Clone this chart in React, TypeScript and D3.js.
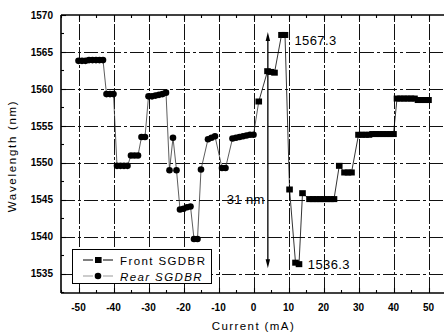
import React, { useEffect, useRef } from "react";
import * as d3 from "d3";

// rear mirror sweep (circles)
const rearCurrent = [
  -50, -49, -48, -47, -46, -45, -44, -43, -42, -41, -40, -39, -38, -37, -36,
  -35, -34, -33, -32, -31, -30, -29, -28, -27, -26, -25, -24, -23, -22, -21,
  -20, -19, -18, -17, -16, -15, -13, -12, -11, -9, -8, -6, -5, -4, -3, -2, -1, 0,
];
const rearWavelength = [
  1563.8, 1563.8, 1563.8, 1563.9, 1563.9, 1563.9, 1563.9, 1563.9, 1559.3,
  1559.3, 1559.3, 1549.6, 1549.6, 1549.6, 1549.6, 1551.0, 1551.0, 1551.0,
  1553.5, 1553.5, 1559.0, 1559.0, 1559.1, 1559.2, 1559.3, 1559.5, 1549.0,
  1553.4, 1549.0, 1543.7, 1543.8, 1544.0, 1544.1, 1539.7, 1539.7, 1549.1,
  1553.2, 1553.4, 1553.6, 1549.3, 1549.3, 1553.3, 1553.4, 1553.5, 1553.6,
  1553.7, 1553.8, 1553.8,
];

// front mirror sweep (squares)
const frontCurrent = [
  1.5, 4, 5, 6, 8, 9, 10.3, 12, 13, 14, 16, 17, 18, 19, 20, 21, 22, 23, 24.5,
  26, 27, 28, 30, 31, 32, 33, 34, 35, 36, 37, 38, 39, 40, 41, 42, 43, 44, 45,
  46, 47, 48, 49, 50,
];
const frontWavelength = [
  1558.3, 1562.4, 1562.3, 1562.2, 1567.3, 1567.3, 1546.4, 1536.5, 1536.3,
  1545.9, 1545.1, 1545.1, 1545.1, 1545.1, 1545.1, 1545.1, 1545.1, 1545.1,
  1549.6, 1548.7, 1548.7, 1548.7, 1553.8, 1553.8, 1553.8, 1553.8, 1553.9,
  1553.9, 1553.9, 1553.9, 1553.9, 1553.9, 1553.9, 1558.7, 1558.7, 1558.7,
  1558.7, 1558.7, 1558.7, 1558.5, 1558.5, 1558.5, 1558.5,
];

const xTicks = [-50, -40, -30, -20, -10, 0, 10, 20, 30, 40, 50];
const xMinorTicks = [-55, -45, -35, -25, -15, -5, 5, 15, 25, 35, 45];
const yTicks = [1535, 1540, 1545, 1550, 1555, 1560, 1565, 1570];
const yMinorTicks = [1532.5, 1537.5, 1542.5, 1547.5, 1552.5, 1557.5, 1562.5, 1567.5];
const legendLabels = ["Front SGDBR", "Rear SGDBR"];
const spanTop = 1567.3;
const spanBottom = 1536.3;
const spanCurrent = 4.1;

const FONT = "'Liberation Sans', Arial, sans-serif";

const App = () => {
  const ref = useRef<SVGSVGElement>(null);

  useEffect(() => {
    const width = 444;
    const height = 336;
    const margin = { top: 15, right: -2, bottom: 43, left: 61 };

    const svg = d3.select(ref.current);
    svg.selectAll("*").remove();
    svg.attr("width", width).attr("height", height);

    const x = d3
      .scaleLinear()
      .domain([-55, 55])
      .range([margin.left, margin.left + 385]);
    const y = d3
      .scaleLinear()
      .domain([1532.4, 1570])
      .range([height - margin.bottom, margin.top]);

    const px = (v: number) => Math.round(v) + 0.5;
    const x0 = x(-55);
    const x1 = width + 4;
    const y0 = y(1532.4);
    const y1 = y(1570);

    // grid
    const grid = svg
      .append("g")
      .attr("stroke", "#111")
      .attr("stroke-width", 1)
      .attr("shape-rendering", "crispEdges");
    grid
      .selectAll(".vgrid")
      .data(xTicks)
      .enter()
      .append("line")
      .attr("x1", (d) => px(x(d)))
      .attr("x2", (d) => px(x(d)))
      .attr("y1", y0)
      .attr("y2", y1)
      .attr("stroke-dasharray", "16 2 3 2");
    grid
      .selectAll(".hgrid")
      .data(yTicks.filter((d) => d < 1570))
      .enter()
      .append("line")
      .attr("x1", x0)
      .attr("x2", x1)
      .attr("y1", (d) => px(y(d)))
      .attr("y2", (d) => px(y(d)))
      .attr("stroke-dasharray", "14 3 3 3");

    // frame + ticks
    const frame = svg.append("g").attr("stroke", "#000").attr("fill", "none");
    frame.append("line").attr("x1", x0).attr("x2", x0).attr("y1", y1).attr("y2", y0).attr("stroke-width", 1.6);
    frame.append("line").attr("x1", x0).attr("x2", x1).attr("y1", y0).attr("y2", y0).attr("stroke-width", 1.6);
    frame.append("line").attr("x1", x0).attr("x2", x1).attr("y1", y1).attr("y2", y1).attr("stroke-width", 1.6);

    const tickG = svg.append("g").attr("stroke", "#000").attr("stroke-width", 1.1);
    xTicks.forEach((t) => {
      tickG.append("line").attr("x1", px(x(t))).attr("x2", px(x(t))).attr("y1", y0).attr("y2", y0 - 5);
      tickG.append("line").attr("x1", px(x(t))).attr("x2", px(x(t))).attr("y1", y1).attr("y2", y1 + 5);
    });
    xMinorTicks.forEach((t) => {
      tickG.append("line").attr("x1", px(x(t))).attr("x2", px(x(t))).attr("y1", y0).attr("y2", y0 - 3);
      tickG.append("line").attr("x1", px(x(t))).attr("x2", px(x(t))).attr("y1", y1).attr("y2", y1 + 3);
    });
    yTicks.forEach((t) => {
      tickG.append("line").attr("x1", x0).attr("x2", x0 + 5).attr("y1", px(y(t))).attr("y2", px(y(t)));
    });
    yMinorTicks.forEach((t) => {
      tickG.append("line").attr("x1", x0).attr("x2", x0 + 3).attr("y1", px(y(t))).attr("y2", px(y(t)));
    });

    // tick labels
    svg
      .append("g")
      .selectAll("text")
      .data(xTicks)
      .enter()
      .append("text")
      .attr("x", (d) => x(d))
      .attr("y", y0 + 18)
      .attr("text-anchor", "middle")
      .style("font-family", FONT)
      .style("font-size", "10px")
      .style("font-weight", "bold")
      .text((d) => d);
    svg
      .append("g")
      .selectAll("text")
      .data(yTicks)
      .enter()
      .append("text")
      .attr("x", x0 - 8)
      .attr("y", (d) => y(d) + 3.6)
      .attr("text-anchor", "end")
      .style("font-family", FONT)
      .style("font-size", "10px")
      .style("font-weight", "bold")
      .text((d) => d);

    // axis titles
    svg
      .append("text")
      .attr("x", x(0))
      .attr("y", 330)
      .attr("text-anchor", "middle")
      .style("font-family", FONT)
      .style("font-size", "11.5px")
      .style("letter-spacing", "1.4px")
      .text("Current (mA)");
    svg
      .append("text")
      .attr("transform", "translate(16," + 156 + ") rotate(-90)")
      .attr("text-anchor", "middle")
      .style("font-family", FONT)
      .style("font-size", "11.5px")
      .style("letter-spacing", "1.7px")
      .text("Wavelength (nm)");

    const rear = rearCurrent.map((c, i) => [c, rearWavelength[i]] as [number, number]);
    const front = frontCurrent.map((c, i) => [c, frontWavelength[i]] as [number, number]);
    const line = d3
      .line<[number, number]>()
      .x((d) => x(d[0]))
      .y((d) => y(d[1]));

    // connecting lines
    svg.append("path").attr("d", line(rear)).attr("fill", "none").attr("stroke", "#333").attr("stroke-width", 0.8);
    svg
      .append("path")
      .attr("d", line([rear[rear.length - 1], front[0]]))
      .attr("fill", "none")
      .attr("stroke", "#333")
      .attr("stroke-width", 0.8);
    svg.append("path").attr("d", line(front)).attr("fill", "none").attr("stroke", "#000").attr("stroke-width", 0.8);

    // markers
    svg
      .append("g")
      .selectAll("circle")
      .data(rear)
      .enter()
      .append("circle")
      .attr("cx", (d) => x(d[0]))
      .attr("cy", (d) => y(d[1]))
      .attr("r", 3.3)
      .attr("fill", "#000");
    svg
      .append("g")
      .selectAll("rect")
      .data(front)
      .enter()
      .append("rect")
      .attr("x", (d) => x(d[0]) - 3.3)
      .attr("y", (d) => y(d[1]) - 3)
      .attr("width", 6.6)
      .attr("height", 6)
      .attr("fill", "#000");

    // 31 nm span arrow
    const ax = x(spanCurrent);
    const yTop = y(spanTop) - 3;
    const yBot = y(spanBottom) + 4;
    svg
      .append("line")
      .attr("x1", ax)
      .attr("x2", ax)
      .attr("y1", yTop + 6)
      .attr("y2", yBot - 6)
      .attr("stroke", "#000")
      .attr("stroke-width", 1.3);
    svg
      .append("path")
      .attr("d", `M${ax},${yTop} L${ax - 2.2},${yTop + 9} L${ax + 2.2},${yTop + 9} Z`)
      .attr("fill", "#000");
    svg
      .append("path")
      .attr("d", `M${ax},${yBot} L${ax - 2.2},${yBot - 9} L${ax + 2.2},${yBot - 9} Z`)
      .attr("fill", "#000");

    const note = (tx: number, ty: number, label: string, anchor: string) =>
      svg
        .append("text")
        .attr("x", tx)
        .attr("y", ty)
        .attr("text-anchor", anchor)
        .style("font-family", FONT)
        .style("font-size", "13px")
        .style("letter-spacing", "0.4px")
        .text(label);
    note(x(11.7), y(spanTop) + 10.5, String(spanTop), "start");
    note(x(15.5), y(spanBottom) + 5, String(spanBottom), "start");
    note(ax - 3, y(1545) + 4.5, Math.round(spanTop - spanBottom) + " nm", "end");

    // legend
    const lg = svg.append("g");
    lg.append("rect")
      .attr("x", 72.5)
      .attr("y", 249.5)
      .attr("width", 139)
      .attr("height", 34)
      .attr("fill", "#fff")
      .attr("stroke", "#000")
      .attr("stroke-width", 1);
    legendLabels.forEach((label, i) => {
      const ly = 260 + i * 16;
      lg.append("line")
        .attr("x1", 83)
        .attr("x2", 113)
        .attr("y1", ly)
        .attr("y2", ly)
        .attr("stroke", i === 0 ? "#000" : "#999")
        .attr("stroke-width", 1)
        .attr("stroke-dasharray", "10 10");
      if (i === 0) {
        lg.append("rect").attr("x", 95).attr("y", ly - 3).attr("width", 6.6).attr("height", 6).attr("fill", "#000");
      } else {
        lg.append("circle").attr("cx", 98).attr("cy", ly).attr("r", 3.3).attr("fill", "#000");
      }
      lg.append("text")
        .attr("x", 120)
        .attr("y", ly + 4.5)
        .style("font-family", FONT)
        .style("font-size", "11.5px")
        .style("letter-spacing", "1.4px")
        .style("font-style", i === 1 ? "italic" : "normal")
        .text(label);
    });
  }, []);

  return (
    <div style={{ position: "absolute", left: 0, top: 0, width: 444, height: 336, background: "#fff" }}>
      <svg ref={ref}></svg>
    </div>
  );
};

export default App;
